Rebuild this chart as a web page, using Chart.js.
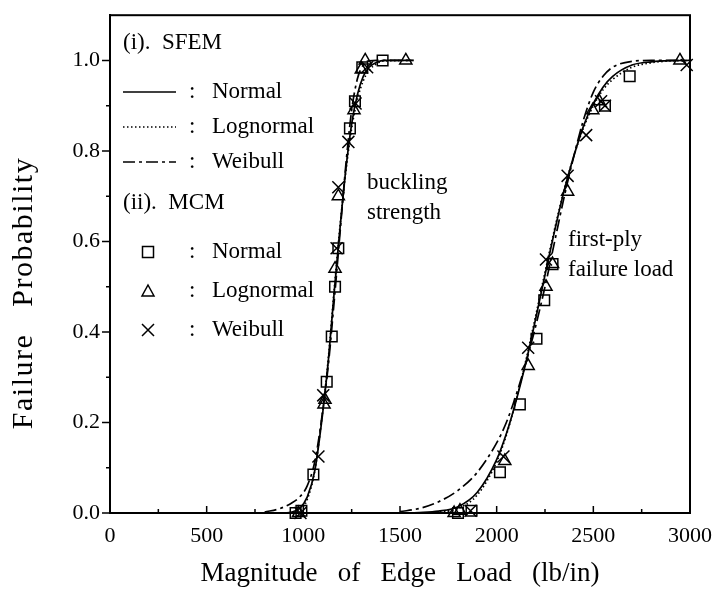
<!DOCTYPE html>
<html>
<head>
<meta charset="utf-8">
<script src="https://cdn.jsdelivr.net/npm/chart.js@4/dist/chart.umd.min.js"></script>
<style>
  html, body { margin: 0; padding: 0; background: #fff; }
  #c { display: block; }
</style>
</head>
<body>
<canvas id="c" width="718" height="593"></canvas>
<script>
// Axis ticks
const xTicks = [0, 500, 1000, 1500, 2000, 2500, 3000];
const xMinorTicks = [250, 750, 1250, 1750, 2250, 2750];
const yTicks = [0.0, 0.2, 0.4, 0.6, 0.8, 1.0];
const yMinorTicks = [0.1, 0.3, 0.5, 0.7, 0.9];

// SFEM curves, buckling strength
const bucklingLoad = [800, 880, 940, 980, 1020, 1060, 1100, 1130, 1160, 1190, 1220, 1250, 1280, 1310, 1340, 1380, 1420, 1570];
const bucklingNormal = [0, 0.000, 0.002, 0.010, 0.035, 0.095, 0.220, 0.340, 0.490, 0.630, 0.760, 0.860, 0.925, 0.965, 0.985, 0.996, 1.0, 1.0];
const bucklingLognormal = [0, 0, 0.001, 0.006, 0.030, 0.095, 0.225, 0.345, 0.495, 0.635, 0.755, 0.850, 0.915, 0.955, 0.978, 0.993, 0.999, 1.0];
const bucklingWeibull = [0.002, 0.010, 0.022, 0.035, 0.060, 0.115, 0.225, 0.330, 0.470, 0.620, 0.770, 0.890, 0.960, 0.990, 0.999, 1.0, 1.0, 1.0];

// SFEM curves, first-ply failure load
const plyLoad = [1500, 1600, 1700, 1800, 1900, 2000, 2050, 2100, 2150, 2200, 2250, 2300, 2350, 2400, 2450, 2500, 2550, 2600, 2700, 2800, 2900, 3000];
const plyNormal = [0, 0.001, 0.004, 0.014, 0.046, 0.118, 0.175, 0.247, 0.330, 0.426, 0.526, 0.624, 0.714, 0.790, 0.856, 0.905, 0.941, 0.965, 0.990, 0.997, 0.9995, 1.0];
const plyLognormal = [0, 0, 0.002, 0.010, 0.040, 0.113, 0.172, 0.248, 0.335, 0.432, 0.532, 0.628, 0.716, 0.790, 0.852, 0.900, 0.935, 0.958, 0.985, 0.995, 0.999, 1.0];
const plyWeibull = [0.003, 0.010, 0.025, 0.050, 0.090, 0.155, 0.200, 0.260, 0.330, 0.410, 0.500, 0.600, 0.700, 0.790, 0.870, 0.930, 0.965, 0.985, 0.998, 1.0, 1.0, 1.0];

// MCM samples (both failure modes)
const mcmNormalLoad = [960, 990, 1052, 1121, 1147, 1164, 1181, 1241, 1267, 1305, 1410, 1800, 1870, 2017, 2120, 2206, 2246, 2289, 2560, 2688];
const mcmNormalP = [0, 0.005, 0.085, 0.29, 0.39, 0.50, 0.585, 0.85, 0.91, 0.985, 1.0, 0, 0.005, 0.09, 0.24, 0.385, 0.47, 0.55, 0.90, 0.965];
const mcmLognormalLoad = [975, 1107, 1112, 1164, 1181, 1262, 1300, 1320, 1530, 1780, 1810, 2042, 2163, 2255, 2289, 2367, 2497, 2530, 2948];
const mcmLognormalP = [0, 0.24, 0.25, 0.54, 0.70, 0.89, 0.98, 1.0, 1.0, 0, 0.005, 0.115, 0.325, 0.50, 0.55, 0.71, 0.89, 0.91, 1.0];
const mcmWeibullLoad = [985, 1078, 1103, 1172, 1181, 1233, 1270, 1330, 1865, 2035, 2163, 2255, 2367, 2463, 2540, 2560, 2983];
const mcmWeibullP = [0, 0.125, 0.26, 0.585, 0.72, 0.82, 0.905, 0.985, 0.005, 0.125, 0.365, 0.56, 0.745, 0.835, 0.91, 0.90, 0.99];

const SERIF = '"Liberation Serif", "Times New Roman", serif';
const DOTTED = [1.5, 2.5];
const DASHDOT = [12, 4, 3, 4];

const pts = (xs, ys) => xs.map((x, i) => ({ x: x, y: ys[i] }));

function curve(xs, ys, dash) {
  return {
    type: 'line',
    data: pts(xs, ys),
    borderColor: '#000',
    borderWidth: 1.7,
    borderDash: dash,
    pointRadius: 0,
    fill: false,
    cubicInterpolationMode: 'monotone',
    clip: false
  };
}

function markers(xs, ys, style, radius) {
  return {
    type: 'scatter',
    data: pts(xs, ys),
    pointStyle: style,
    pointRadius: radius,
    pointHoverRadius: radius,
    pointBorderColor: '#000',
    pointBackgroundColor: 'rgba(0,0,0,0)',
    pointBorderWidth: 1.5,
    showLine: false,
    clip: false
  };
}

// Frame, inward/outward ticks, y title, legend block and labels
const decorations = {
  id: 'decorations',
  afterDraw(chart) {
    const { ctx, chartArea: a, scales: { x, y } } = chart;
    ctx.save();
    ctx.strokeStyle = '#000';
    ctx.fillStyle = '#000';
    ctx.lineWidth = 2;
    ctx.strokeRect(a.left, a.top, a.right - a.left, a.bottom - a.top);

    ctx.lineWidth = 1.5;
    ctx.beginPath();
    xTicks.forEach(v => { const p = x.getPixelForValue(v); ctx.moveTo(p, a.bottom); ctx.lineTo(p, a.bottom - 7); });
    xMinorTicks.forEach(v => { const p = x.getPixelForValue(v); ctx.moveTo(p, a.bottom); ctx.lineTo(p, a.bottom - 4); });
    yTicks.forEach(v => { const p = y.getPixelForValue(v); ctx.moveTo(a.left, p); ctx.lineTo(a.left - 8, p); });
    yMinorTicks.forEach(v => { const p = y.getPixelForValue(v); ctx.moveTo(a.left, p); ctx.lineTo(a.left - 4, p); });
    ctx.stroke();

    // y axis title
    ctx.save();
    ctx.translate(24, 293);
    ctx.rotate(-Math.PI / 2);
    ctx.font = '30px ' + SERIF;
    ctx.textAlign = 'center';
    ctx.textBaseline = 'middle';
    ctx.letterSpacing = '1.5px';
    ctx.fillText('Failure   Probability', 0, 0);
    ctx.restore();

    ctx.font = '23px ' + SERIF;
    ctx.textBaseline = 'middle';
    ctx.textAlign = 'left';

    // (i). SFEM
    ctx.fillText('(i).  SFEM', 123, 43);
    const sfemRows = [[92, [], 'Normal'], [127, DOTTED, 'Lognormal'], [162, DASHDOT, 'Weibull']];
    sfemRows.forEach(([ry, dash, label]) => {
      ctx.save();
      ctx.lineWidth = 1.7;
      ctx.setLineDash(dash);
      ctx.beginPath();
      ctx.moveTo(123, ry);
      ctx.lineTo(176, ry);
      ctx.stroke();
      ctx.restore();
      ctx.fillText(':', 189, ry);
      ctx.fillText(label, 212, ry);
    });

    // (ii). MCM
    ctx.fillText('(ii).  MCM', 123, 203);
    const mx = 148;
    ctx.lineWidth = 1.5;
    ctx.strokeRect(mx - 5.5, 252 - 5.5, 11, 11);
    ctx.fillText(':', 189, 252);
    ctx.fillText('Normal', 212, 252);
    ctx.beginPath();
    ctx.moveTo(mx, 291 - 6);
    ctx.lineTo(mx + 6, 291 + 5);
    ctx.lineTo(mx - 6, 291 + 5);
    ctx.closePath();
    ctx.stroke();
    ctx.fillText(':', 189, 291);
    ctx.fillText('Lognormal', 212, 291);
    ctx.beginPath();
    ctx.moveTo(mx - 6, 330 - 6); ctx.lineTo(mx + 6, 330 + 6);
    ctx.moveTo(mx + 6, 330 - 6); ctx.lineTo(mx - 6, 330 + 6);
    ctx.stroke();
    ctx.fillText(':', 189, 330);
    ctx.fillText('Weibull', 212, 330);

    // curve labels
    ctx.fillText('buckling', 367, 183);
    ctx.fillText('strength', 367, 213);
    ctx.fillText('first-ply', 568, 240);
    ctx.fillText('failure load', 568, 270);
    ctx.restore();
  }
};

new Chart(document.getElementById('c'), {
  data: {
    datasets: [
      curve(bucklingLoad, bucklingNormal, []),
      curve(bucklingLoad, bucklingLognormal, DOTTED),
      curve(bucklingLoad, bucklingWeibull, DASHDOT),
      curve(plyLoad, plyNormal, []),
      curve(plyLoad, plyLognormal, DOTTED),
      curve(plyLoad, plyWeibull, DASHDOT),
      markers(mcmNormalLoad, mcmNormalP, 'rect', 7.5),
      markers(mcmLognormalLoad, mcmLognormalP, 'triangle', 7),
      markers(mcmWeibullLoad, mcmWeibullP, 'crossRot', 8.5)
    ]
  },
  options: {
    responsive: false,
    animation: false,
    events: [],
    layout: { padding: { left: 0, top: 8, right: 28, bottom: 0 } },
    plugins: { legend: { display: false }, tooltip: { enabled: false } },
    scales: {
      x: {
        type: 'linear',
        min: 0,
        max: 3000,
        afterFit(s) { s.height = 80; },
        afterBuildTicks(s) { s.ticks = xTicks.map(v => ({ value: v })); },
        grid: { drawOnChartArea: false, drawTicks: true, tickLength: 8, tickColor: 'rgba(0,0,0,0)' },
        border: { display: true, color: '#000', width: 2 },
        ticks: { color: '#000', padding: 2, maxRotation: 0, font: { family: SERIF, size: 22 }, callback: v => String(v) },
        title: { display: true, text: 'Magnitude   of   Edge   Load   (lb/in)', color: '#000', font: { family: SERIF, size: 27 }, padding: { top: 0, bottom: 3 } }
      },
      y: {
        type: 'linear',
        min: 0,
        max: 1.1,
        afterFit(s) { s.width = 110; },
        afterBuildTicks(s) { s.ticks = yTicks.map(v => ({ value: v })); },
        grid: { drawOnChartArea: false, drawTicks: true, tickLength: 8, tickColor: 'rgba(0,0,0,0)' },
        border: { display: true, color: '#000', width: 2 },
        ticks: { color: '#000', padding: 2, font: { family: SERIF, size: 22 }, callback: v => Number(v).toFixed(1) },
        title: { display: false }
      }
    }
  },
  plugins: [decorations]
});
</script>
</body>
</html>
